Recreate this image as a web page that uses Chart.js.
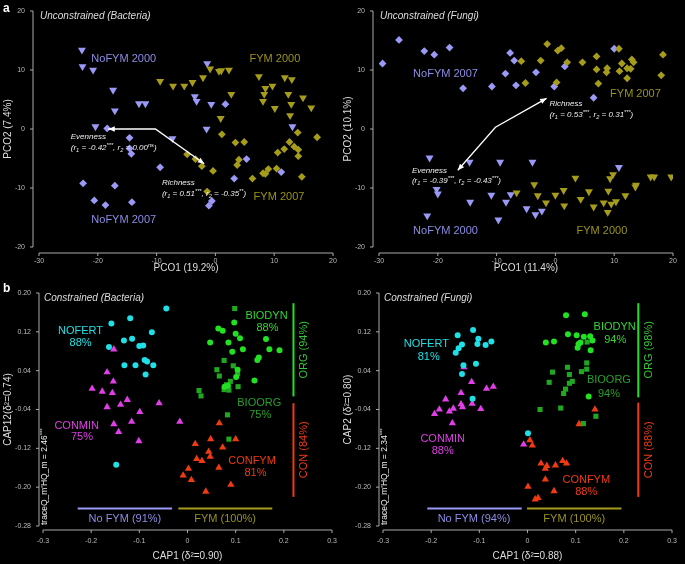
<!DOCTYPE html>
<html>
<head>
<meta charset="utf-8">
<script src="https://cdn.jsdelivr.net/npm/chart.js@4.4.1/dist/chart.umd.min.js"></script>
<style>
  body { margin: 0; background: #000; }
  #wrap { position: relative; width: 685px; height: 564px; background: #000; }
  canvas { position: absolute; }
</style>
</head>
<body>
<div id="wrap">
  <canvas id="pa1" width="340" height="280" style="left:0;top:0"></canvas>
  <canvas id="pa2" width="345" height="280" style="left:340px;top:0"></canvas>
  <canvas id="pb1" width="340" height="284" style="left:0;top:280px"></canvas>
  <canvas id="pb2" width="345" height="284" style="left:340px;top:280px"></canvas>
</div>
<script>
// ---- data: unconstrained PCO (bacteria) ----
const bactNoFym2000 = [[-22.7,13.4],[-22.6,10.6],[-20.8,10.0],[-17.4,6.6],[-17.1,3.1],[-20.4,0.4],[-13.0,4.3],[-11.9,4.3],[-3.5,5.5],[-3.2,4.7],[-1.4,11.1],[-0.7,4.2],[-1.5,0.0],[-7.3,-1.6],[13.1,0.4]];
const bactNoFym2007 = [[-18.4,0.1],[-14.6,-1.5],[-14.6,-3.3],[-14.3,-4.2],[-17.1,-9.6],[-22.5,-9.2],[-20.6,-12.1],[-18.7,-12.9],[-14.2,-12.4],[-9.4,-6.5],[1.7,4.2],[5.3,-5.1],[3.2,-8.4],[11.2,-7.3],[-0.6,-12.2],[-1.1,-13.0]];
const bactFym2000 = [[-9.4,8.1],[-7.2,7.3],[-5.3,7.3],[-3.9,7.9],[-2.1,8.7],[-0.9,10.2],[0.6,9.8],[1.0,9.9],[2.3,10.0],[0.9,1.8],[2.7,5.9],[7.4,8.9],[8.5,6.9],[8.3,5.9],[8.1,4.7],[9.7,7.3],[10.1,3.5],[11.8,8.7],[13.0,8.4],[12.4,5.9],[12.9,4.2],[12.7,2.3],[14.9,5.3],[16.3,3.6]];
const bactFym2007 = [[1.1,-0.9],[3.4,-2.3],[4.9,-2.2],[-4.8,-4.3],[-3.4,-5.1],[-2.3,-6.3],[-0.4,-7.1],[-1.4,-10.6],[3.7,-6.1],[4.0,-5.2],[6.3,-8.4],[8.1,-7.5],[8.5,-7.6],[9.0,-6.8],[10.4,-6.7],[10.6,-4.0],[11.7,-3.4],[12.6,-2.2],[13.4,-3.0],[14.1,-3.5],[14.1,-4.6],[14.7,-8.1],[14.0,-0.6],[17.3,-1.4]];

// ---- data: unconstrained PCO (fungi) ----
const fungNoFym2007 = [[-29.4,11.1],[-26.6,15.1],[-22.3,13.2],[-20.6,12.6],[-18.0,13.8],[-15.7,6.9],[-10.8,7.2],[-8.5,9.4],[-7.7,12.9],[-7.0,11.6],[-6.7,7.4],[-3.3,9.6],[1.6,10.6],[-0.2,7.2],[6.5,5.3],[10.0,13.6]];
const fungFym2007 = [[-5.8,11.5],[-5.1,7.8],[-2.5,11.6],[-1.4,14.4],[0.4,13.3],[1.0,13.7],[2.0,11.3],[0.2,7.9],[4.6,11.3],[7.0,12.3],[7.0,10.1],[7.3,7.7],[8.8,10.3],[8.7,9.6],[10.8,13.6],[11.3,11.1],[10.9,9.8],[12.2,10.3],[12.2,8.6],[12.8,10.2],[13.0,11.8],[13.3,11.3],[18.0,9.1],[18.3,12.6]];
const fungNoFym2000 = [[-21.4,-4.9],[-20.2,-10.2],[-20.0,-11.0],[-21.8,-14.7],[-14.6,-5.6],[-14.5,-12.4],[-9.4,-5.6],[-10.9,-11.2],[-9.7,-15.4],[-8.4,-12.4],[-7.6,-11.1],[-3.9,-5.6],[-4.9,-13.5],[-3.4,-14.5],[-2.3,-13.9],[10.8,-6.5]];
const fungFym2000 = [[-6.6,-10.8],[-3.6,-9.4],[-3.0,-11.3],[-1.6,-12.5],[0.0,-11.2],[1.4,-10.4],[1.5,-13.0],[3.4,-8.3],[4.3,-11.9],[5.7,-10.6],[6.5,-13.2],[8.2,-12.5],[9.0,-10.5],[8.9,-14.1],[9.3,-8.4],[9.8,-7.7],[9.5,-12.7],[10.3,-12.3],[11.9,-11.3],[13.7,-9.5],[13.6,-9.8],[16.2,-8.1],[16.8,-8.1],[19.7,-8.1]];

// ---- data: constrained CAP (bacteria) ----
const capBNofert = [[-0.044,0.168],[-0.158,0.137],[-0.119,0.148],[-0.074,0.119],[-0.163,0.089],[-0.132,0.102],[-0.115,0.106],[-0.100,0.091],[-0.092,0.092],[-0.089,0.062],[-0.084,0.059],[-0.131,0.051],[-0.108,0.051],[-0.071,0.051],[-0.087,0.032],[-0.148,-0.154]];
const capBConmin = [[-0.153,0.084],[-0.167,0.037],[-0.154,0.018],[-0.198,0.003],[-0.177,-0.003],[-0.156,-0.006],[-0.125,-0.020],[-0.139,-0.030],[-0.167,-0.035],[-0.099,-0.045],[-0.059,-0.027],[-0.153,-0.070],[-0.116,-0.065],[-0.143,-0.086],[-0.101,-0.105],[-0.016,-0.065]];
const capBBiodyn = [[0.097,0.139],[0.064,0.127],[0.073,0.122],[0.100,0.116],[0.047,0.098],[0.085,0.098],[0.109,0.107],[0.093,0.079],[0.115,0.084],[0.163,0.105],[0.170,0.084],[0.191,0.082],[0.145,0.062],[0.148,0.067],[0.104,0.042],[0.101,0.027],[0.139,0.020],[0.084,0.009],[0.077,0.007]];
const capBBioorg = [[0.098,0.168],[0.076,0.061],[0.095,0.050],[0.061,0.042],[0.066,0.029],[0.104,0.034],[0.089,0.018],[0.081,0.011],[0.076,0.001],[0.086,0.000],[0.105,0.007],[0.024,-0.001],[0.028,-0.012],[0.083,-0.051],[0.086,-0.101]];
const capBConfym = [[0.066,-0.068],[0.048,-0.101],[0.016,-0.111],[0.100,-0.101],[0.073,-0.118],[0.044,-0.127],[0.047,-0.137],[0.019,-0.142],[0.030,-0.146],[0.065,-0.160],[0.002,-0.162],[-0.009,-0.176],[0.008,-0.185],[0.090,-0.195],[0.038,-0.209]];

// ---- data: constrained CAP (fungi) ----
const capFNofert = [[-0.113,0.124],[-0.145,0.113],[-0.102,0.106],[-0.075,0.100],[-0.136,0.094],[-0.104,0.095],[-0.087,0.093],[-0.143,0.086],[-0.149,0.077],[-0.133,0.051],[-0.107,0.054],[-0.136,0.033],[-0.114,-0.018],[0.001,-0.089]];
const capFConmin = [[-0.132,0.047],[-0.116,0.017],[-0.085,0.003],[-0.071,0.007],[-0.138,-0.006],[-0.170,-0.019],[-0.138,-0.029],[-0.135,-0.035],[-0.115,-0.028],[-0.183,-0.040],[-0.162,-0.044],[-0.154,-0.038],[-0.097,-0.039],[-0.193,-0.049],[-0.156,-0.068],[-0.008,-0.112]];
const capFBiodyn = [[0.080,0.154],[0.119,0.156],[0.084,0.115],[0.102,0.113],[0.117,0.110],[0.130,0.111],[0.135,0.102],[0.038,0.098],[0.055,0.100],[0.106,0.095],[0.110,0.098],[0.104,0.087],[0.131,0.082],[0.127,-0.013]];
const capFBioorg = [[0.124,0.099],[0.123,0.056],[0.123,0.043],[0.112,0.038],[0.083,0.047],[0.052,0.037],[0.087,0.032],[0.093,0.018],[0.045,0.016],[0.087,0.014],[0.079,0.002],[0.075,-0.007],[0.026,-0.040],[0.069,-0.037],[0.142,-0.054],[0.116,-0.069]];
const capFConfym = [[0.140,-0.040],[0.107,-0.070],[0.005,-0.103],[0.010,-0.114],[0.028,-0.151],[0.040,-0.156],[0.037,-0.162],[0.058,-0.155],[0.073,-0.146],[0.081,-0.151],[0.037,-0.184],[0.055,-0.208],[0.001,-0.199],[0.016,-0.225],[0.022,-0.222]];

// tick values
const pcoXTicks = [-30, -20, -10, 0, 10, 20];
const pcoYTicks = [-20, -10, 0, 10, 20];
const capXTicks = [-0.3, -0.2, -0.1, 0, 0.1, 0.2, 0.3];
const capYTicks = [-0.28, -0.20, -0.12, -0.04, 0.04, 0.12, 0.20];

const FONT = '"Liberation Sans", Arial, sans-serif';
const LAV = '#9a9af6', OLIVE = '#a59c1c';
const LAV_T = '#8c8ce6', OLIVE_T = '#9a921a';
const CYAN = '#1ee0e6', MAG = '#e03ee6', GREEN = '#22e022', DGREEN = '#20a820', RED = '#f03a12';

function pts(arr) { return arr.map(([x, y]) => ({ x, y })); }

function series(arr, style, color, r, rot) {
  return {
    data: pts(arr), pointStyle: style, rotation: rot || 0,
    backgroundColor: color, borderColor: color, borderWidth: 0, pointRadius: r
  };
}

// text with sub/superscripts: parts = [[text, mode], ...]
function richText(ctx, parts, x, y, size, color, italic) {
  let cx = x;
  ctx.fillStyle = color;
  ctx.textAlign = 'left';
  ctx.textBaseline = 'middle';
  parts.forEach(([t, m]) => {
    const fs = m ? size * 0.7 : size;
    ctx.font = (italic ? 'italic ' : '') + fs + 'px ' + FONT;
    const dy = m === 'sub' ? size * 0.3 : m === 'sup' ? -size * 0.35 : 0;
    ctx.fillText(t, cx, y + dy);
    cx += ctx.measureText(t).width;
  });
}

function arrowHead(ctx, x0, y0, x1, y1) {
  const a = Math.atan2(y1 - y0, x1 - x0), L = 7, w = 0.4;
  ctx.beginPath();
  ctx.moveTo(x1, y1);
  ctx.lineTo(x1 - L * Math.cos(a - w), y1 - L * Math.sin(a - w));
  ctx.lineTo(x1 - L * Math.cos(a + w), y1 - L * Math.sin(a + w));
  ctx.closePath();
  ctx.fill();
}

function decor(spec) {
  return {
    id: 'decor',
    afterDraw(chart) {
      const ctx = chart.ctx, xs = chart.scales.x, ys = chart.scales.y, ca = chart.chartArea;
      const px = v => xs.getPixelForValue(v), py = v => ys.getPixelForValue(v);
      ctx.save();
      // offset axes, R style
      ctx.strokeStyle = '#aaa';
      ctx.lineWidth = 1;
      const ax = ca.left - spec.off, ay = ca.bottom + spec.off;
      ctx.beginPath();
      ctx.moveTo(ax, py(spec.yt[0])); ctx.lineTo(ax, py(spec.yt[spec.yt.length - 1]));
      spec.yt.forEach(v => { ctx.moveTo(ax, py(v)); ctx.lineTo(ax - 3, py(v)); });
      ctx.moveTo(px(spec.xt[0]), ay); ctx.lineTo(px(spec.xt[spec.xt.length - 1]), ay);
      spec.xt.forEach(v => { ctx.moveTo(px(v), ay); ctx.lineTo(px(v), ay + 3); });
      ctx.stroke();

      // title
      ctx.fillStyle = '#ddd';
      ctx.font = 'italic 10px ' + FONT;
      ctx.textAlign = 'left';
      ctx.textBaseline = 'middle';
      ctx.fillText(spec.title, ca.left + 1, ca.top + 5);

      // panel letter
      if (spec.letter) {
        ctx.font = 'bold 12px ' + FONT;
        ctx.fillStyle = '#fff';
        ctx.fillText(spec.letter, 3, 9);
      }

      // lines
      (spec.lines || []).forEach(l => {
        ctx.strokeStyle = l.color;
        ctx.lineWidth = 2;
        ctx.beginPath();
        ctx.moveTo(px(l.x0), py(l.y0));
        ctx.lineTo(px(l.x1), py(l.y1));
        ctx.stroke();
      });

      // arrows: polyline with heads at both ends
      (spec.arrows || []).forEach(a => {
        ctx.strokeStyle = '#fff';
        ctx.fillStyle = '#fff';
        ctx.lineWidth = 1.3;
        const p = a.map(([x, y]) => [px(x), py(y)]);
        ctx.beginPath();
        ctx.moveTo(p[0][0], p[0][1]);
        for (let i = 1; i < p.length; i++) ctx.lineTo(p[i][0], p[i][1]);
        ctx.stroke();
        arrowHead(ctx, p[1][0], p[1][1], p[0][0], p[0][1]);
        const n = p.length - 1;
        arrowHead(ctx, p[n - 1][0], p[n - 1][1], p[n][0], p[n][1]);
      });

      // labels
      (spec.labels || []).forEach(t => {
        ctx.fillStyle = t.color;
        ctx.font = (t.size || 11) + 'px ' + FONT;
        ctx.textAlign = t.align || 'center';
        ctx.textBaseline = 'middle';
        if (t.rot) {
          ctx.save();
          ctx.translate(px(t.x), py(t.y));
          ctx.rotate(-Math.PI / 2);
          ctx.fillText(t.text, 0, 0);
          ctx.restore();
        } else {
          ctx.fillText(t.text, px(t.x), py(t.y));
        }
      });

      // rich italic annotations
      (spec.rich || []).forEach(r => {
        richText(ctx, r.parts, px(r.x), py(r.y), 8, '#eee', true);
      });

      // trace statistic, rotated along left edge
      if (spec.trace) {
        ctx.save();
        ctx.translate(ca.left + 2, ca.bottom - 1);
        ctx.rotate(-Math.PI / 2);
        richText(ctx, spec.trace, 0, 0, 8.5, '#eee', false);
        ctx.restore();
      }
      ctx.restore();
    }
  };
}

function makeChart(id, datasets, ax, spec) {
  const tickFont = { family: FONT, size: 7 };
  new Chart(document.getElementById(id), {
    type: 'scatter',
    data: { datasets },
    options: {
      responsive: false,
      animation: false,
      layout: { padding: { left: 0, right: ax.right, top: ax.top, bottom: 0 } },
      plugins: { legend: { display: false }, tooltip: { enabled: false } },
      scales: {
        x: {
          min: ax.xmin, max: ax.xmax,
          // fixed box size; drop label paddings so layout padding sets the plot area
          afterFit: s => { s.height = ax.xh; s.paddingLeft = 0; s.paddingRight = 0; },
          afterBuildTicks: s => { s.ticks = ax.xt.map(v => ({ value: v })); },
          grid: { display: false, drawTicks: false },
          border: { display: false },
          ticks: { color: '#bbb', font: tickFont, padding: ax.xpad, maxRotation: 0, autoSkip: false,
                   callback: ax.xfmt },
          title: { display: true, text: ax.xtitle, color: '#ddd', font: { family: FONT, size: 10 },
                   padding: { top: 0, bottom: ax.xtpad } }
        },
        y: {
          min: ax.ymin, max: ax.ymax,
          afterFit: s => { s.width = ax.yw; s.paddingTop = 0; s.paddingBottom = 0; },
          afterBuildTicks: s => { s.ticks = ax.yt.map(v => ({ value: v })); },
          grid: { display: false, drawTicks: false },
          border: { display: false },
          ticks: { color: '#bbb', font: tickFont, padding: ax.ypad, autoSkip: false, callback: ax.yfmt },
          title: { display: true, text: ax.ytitle, color: '#ddd', font: { family: FONT, size: 10 },
                   padding: { top: 2, bottom: 0 } }
        }
      }
    },
    plugins: [decor(spec)]
  });
}

const pcoAx = (right, xtitle, ytitle) => ({
  xmin: -30, xmax: 20, ymin: -20, ymax: 20, xt: pcoXTicks, yt: pcoYTicks,
  right, top: 11, xh: 33, yw: 39, xpad: 10, ypad: 14, xtpad: 6,
  xfmt: v => String(v), yfmt: v => String(v), xtitle, ytitle
});
const capAx = (right, xtitle, ytitle) => ({
  xmin: -0.3, xmax: 0.3, ymin: -0.28, ymax: 0.20, xt: capXTicks, yt: capYTicks,
  right, top: 13, xh: 38, yw: 43, xpad: 11, ypad: 12, xtpad: 2,
  xfmt: v => String(Math.round(v * 10) / 10), yfmt: v => v.toFixed(2), xtitle, ytitle
});

const sub = t => [t, 'sub'], sup = t => [t, 'sup'], n = t => [t, ''];

// ---- panel a, bacteria ----
makeChart('pa1', [
  series(bactFym2000, 'triangle', OLIVE, 4.6, 180),
  series(bactFym2007, 'rectRot', OLIVE, 3.9),
  series(bactNoFym2000, 'triangle', LAV, 4.6, 180),
  series(bactNoFym2007, 'rectRot', LAV, 3.9)
], pcoAx(7, 'PCO1 (19.2%)', 'PCO2 (7.4%)'), {
  off: 6, xt: pcoXTicks, yt: pcoYTicks, letter: 'a', title: 'Unconstrained (Bacteria)',
  arrows: [[[-18.2, 0], [-10.2, 0], [-1.9, -5.9]]],
  labels: [
    { text: 'NoFYM 2000', x: -21.1, y: 11.8, color: LAV_T, align: 'left' },
    { text: 'FYM 2000', x: 5.8, y: 11.8, color: OLIVE_T, align: 'left' },
    { text: 'FYM 2007', x: 6.5, y: -11.5, color: OLIVE_T, align: 'left' },
    { text: 'NoFYM 2007', x: -21.1, y: -15.5, color: LAV_T, align: 'left' }
  ],
  rich: [
    { x: -24.6, y: -1.4, parts: [n('Evenness')] },
    { x: -24.6, y: -3.2, parts: [n('(r'), sub('1'), n(' = -0.42'), sup('***'), n(', r'), sub('2'), n(' = 0.00'), sup('ns'), n(')')] },
    { x: -9.1, y: -9.2, parts: [n('Richness')] },
    { x: -9.1, y: -11.0, parts: [n('(r'), sub('1'), n(' = 0.51'), sup('***'), n(', r'), sub('2'), n(' = -0.35'), sup('**'), n(')')] }
  ]
});

// ---- panel a, fungi ----
makeChart('pa2', [
  series(fungFym2000, 'triangle', OLIVE, 4.6, 180),
  series(fungFym2007, 'rectRot', OLIVE, 3.9),
  series(fungNoFym2000, 'triangle', LAV, 4.6, 180),
  series(fungNoFym2007, 'rectRot', LAV, 3.9)
], pcoAx(12, 'PCO1 (11.4%)', 'PCO2 (10.1%)'), {
  off: 6, xt: pcoXTicks, yt: pcoYTicks, title: 'Unconstrained (Fungi)',
  arrows: [[[-16.6, -7.0], [-10.2, 0.3], [-1.5, 5.2]]],
  labels: [
    { text: 'NoFYM 2007', x: -24.2, y: 9.3, color: LAV_T, align: 'left' },
    { text: 'FYM 2007', x: 9.3, y: 6.0, color: OLIVE_T, align: 'left' },
    { text: 'NoFYM 2000', x: -24.2, y: -17.2, color: LAV_T, align: 'left' },
    { text: 'FYM 2000', x: 3.6, y: -17.2, color: OLIVE_T, align: 'left' }
  ],
  rich: [
    { x: -1.0, y: 4.2, parts: [n('Richness')] },
    { x: -1.0, y: 2.4, parts: [n('(r'), sub('1'), n(' = 0.53'), sup('***'), n(', r'), sub('2'), n(' = 0.31'), sup('***'), n(')')] },
    { x: -24.4, y: -7.0, parts: [n('Evenness')] },
    { x: -24.4, y: -8.8, parts: [n('(r'), sub('1'), n(' = -0.39'), sup('***'), n(', r'), sub('2'), n(' = -0.43'), sup('***'), n(')')] }
  ]
});

// ---- panel b, bacteria ----
makeChart('pb1', [
  series(capBNofert, 'circle', CYAN, 3),
  series(capBConmin, 'triangle', MAG, 4.2),
  series(capBBiodyn, 'circle', GREEN, 3),
  series(capBBioorg, 'rect', DGREEN, 3.6),
  series(capBConfym, 'triangle', RED, 4.2)
], capAx(8, 'CAP1 (δ²=0.90)', 'CAP12(δ²=0.74)'), {
  off: 4, xt: capXTicks, yt: capYTicks, letter: 'b', title: 'Constrained (Bacteria)',
  lines: [
    { x0: 0.220, y0: 0.179, x1: 0.220, y1: -0.013, color: GREEN },
    { x0: 0.220, y0: -0.027, x1: 0.220, y1: -0.220, color: RED },
    { x0: -0.228, y0: -0.244, x1: -0.032, y1: -0.244, color: LAV },
    { x0: -0.019, y0: -0.244, x1: 0.176, y1: -0.244, color: OLIVE }
  ],
  labels: [
    { text: 'NOFERT', x: -0.222, y: 0.121, color: CYAN },
    { text: '88%', x: -0.222, y: 0.097, color: CYAN },
    { text: 'BIODYN', x: 0.164, y: 0.152, color: '#33d633' },
    { text: '88%', x: 0.166, y: 0.128, color: '#33d633' },
    { text: 'BIOORG', x: 0.149, y: -0.027, color: '#28a028' },
    { text: '75%', x: 0.151, y: -0.051, color: '#28a028' },
    { text: 'CONMIN', x: -0.230, y: -0.074, color: MAG },
    { text: '75%', x: -0.219, y: -0.096, color: MAG },
    { text: 'CONFYM', x: 0.134, y: -0.147, color: RED },
    { text: '81%', x: 0.141, y: -0.170, color: RED },
    { text: 'ORG (94%)', x: 0.242, y: 0.083, color: '#33c833', rot: true },
    { text: 'CON (84%)', x: 0.242, y: -0.123, color: RED, rot: true },
    { text: 'No FYM (91%)', x: -0.130, y: -0.266, color: LAV_T },
    { text: 'FYM (100%)', x: 0.078, y: -0.266, color: OLIVE_T }
  ],
  trace: [n('traceQ_m\'HQ_m = 2.46'), sup('***')]
});

// ---- panel b, fungi ----
makeChart('pb2', [
  series(capFNofert, 'circle', CYAN, 3),
  series(capFConmin, 'triangle', MAG, 4.2),
  series(capFBiodyn, 'circle', GREEN, 3),
  series(capFBioorg, 'rect', DGREEN, 3.6),
  series(capFConfym, 'triangle', RED, 4.2)
], capAx(13, 'CAP1 (δ²=0.88)', 'CAP2 (δ²=0.80)'), {
  off: 4, xt: capXTicks, yt: capYTicks, title: 'Constrained (Fungi)',
  lines: [
    { x0: 0.230, y0: 0.179, x1: 0.230, y1: -0.015, color: GREEN },
    { x0: 0.230, y0: -0.026, x1: 0.230, y1: -0.220, color: RED },
    { x0: -0.208, y0: -0.244, x1: -0.012, y1: -0.244, color: LAV },
    { x0: -0.001, y0: -0.244, x1: 0.195, y1: -0.244, color: OLIVE }
  ],
  labels: [
    { text: 'NOFERT', x: -0.210, y: 0.095, color: CYAN },
    { text: '81%', x: -0.205, y: 0.069, color: CYAN },
    { text: 'BIODYN', x: 0.181, y: 0.130, color: '#33d633' },
    { text: '94%', x: 0.182, y: 0.104, color: '#33d633' },
    { text: 'BIOORG', x: 0.169, y: 0.020, color: '#28a028' },
    { text: '94%', x: 0.169, y: -0.008, color: '#28a028' },
    { text: 'CONMIN', x: -0.176, y: -0.101, color: MAG },
    { text: '88%', x: -0.176, y: -0.125, color: MAG },
    { text: 'CONFYM', x: 0.122, y: -0.185, color: RED },
    { text: '88%', x: 0.122, y: -0.209, color: RED },
    { text: 'ORG (98%)', x: 0.252, y: 0.083, color: '#33c833', rot: true },
    { text: 'CON (88%)', x: 0.252, y: -0.123, color: RED, rot: true },
    { text: 'No FYM (94%)', x: -0.111, y: -0.266, color: LAV_T },
    { text: 'FYM (100%)', x: 0.097, y: -0.266, color: OLIVE_T }
  ],
  trace: [n('traceQ_m\'HQ_m = 2.34'), sup('***')]
});
</script>
</body>
</html>
